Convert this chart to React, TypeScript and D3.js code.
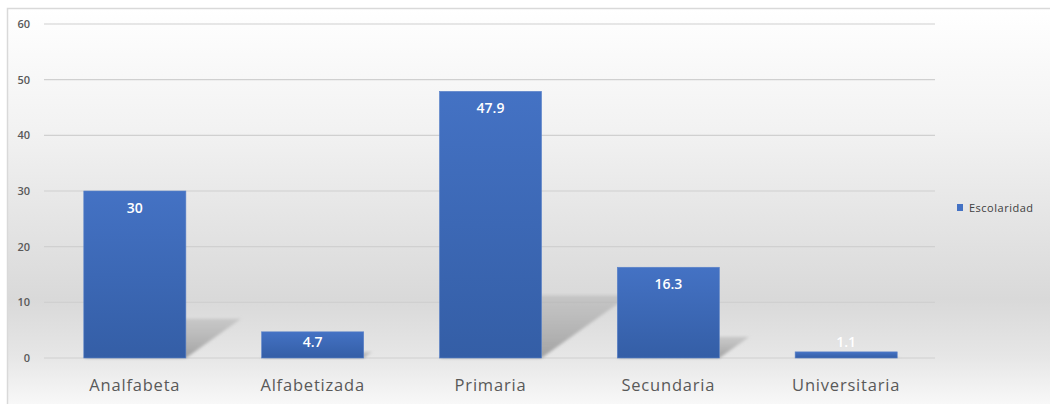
import React from "react";
import * as d3 from "d3";

const categories = ["Analfabeta", "Alfabetizada", "Primaria", "Secundaria", "Universitaria"];
const values = [30, 4.7, 47.9, 16.3, 1.1];
const valueLabels = ["30", "4.7", "47.9", "16.3", "1.1"];
const yTicks = [0, 10, 20, 30, 40, 50, 60];
const seriesName = "Escolaridad";

export default function App() {
  const W = 1050, H = 404;
  const left = 44, right = 935, top = 24, base = 358;
  const x = d3.scaleBand<string>().domain(categories).range([46, 935]).paddingInner(0.426).paddingOuter(0.2125);
  const y = d3.scaleLinear().domain([0, 60]).range([base, top]);
  const font = "'Open Sans', 'Noto Sans', sans-serif";
  const gray = "#595959";
  return (
    <svg width={W} height={H} style={{ position: "absolute", left: 0, top: 0, display: "block" }}>
      <defs>
        <linearGradient id="bg" x1="0" y1="0" x2="0" y2="1">
          <stop offset="0%" stopColor="#ffffff" />
          <stop offset="30%" stopColor="#f2f2f2" />
          <stop offset="72%" stopColor="#d9d9d9" />
          <stop offset="86%" stopColor="#e6e6e6" />
          <stop offset="100%" stopColor="#fbfbfb" />
        </linearGradient>
        <linearGradient id="bar" x1="0" y1="0" x2="0" y2="1">
          <stop offset="0%" stopColor="#4472c4" />
          <stop offset="100%" stopColor="#345ea6" />
        </linearGradient>
        <linearGradient id="shadow" x1="0" y1="1" x2="0" y2="0">
          <stop offset="0%" stopColor="#9a9a9a" stopOpacity="0.9" />
          <stop offset="100%" stopColor="#b8b8b8" stopOpacity="0.6" />
        </linearGradient>
        <filter id="blur" x="-20%" y="-20%" width="140%" height="140%">
          <feGaussianBlur stdDeviation="1.5" />
        </filter>
      </defs>
      <rect x={7.5} y={8.5} width={W} height={H} fill="url(#bg)" stroke="#d9d9d9" strokeWidth={1.5} />
      {yTicks.map((t) => (
        <g key={t}>
          <line x1={left} x2={right} y1={y(t)} y2={y(t)} stroke="#d0d0d0" strokeWidth={1.2} />
          <text x={30} y={y(t)} dy="0.35em" textAnchor="end" fontSize={11} fontWeight={600} fill={gray} fontFamily={font}>{t}</text>
        </g>
      ))}
      {categories.map((c, i) => {
        const x0 = x(c)!;
        const x1 = x0 + x.bandwidth();
        const h = base - y(values[i]);
        const dx = h * 0.33, dy = h * 0.235;
        const pts = [[x0, base], [x1, base], [x1 + dx, base - dy], [x0 + dx, base - dy]];
        return (
          <polygon key={"s" + c} points={pts.map((p) => p.join(",")).join(" ")} fill="url(#shadow)" filter="url(#blur)" />
        );
      })}
      {categories.map((c, i) => {
        const x0 = x(c)!;
        const h = base - y(values[i]);
        const inside = h > 20;
        const ly = inside ? y(values[i]) + Math.min(17, h * 0.4) : y(values[i]) - 10;
        return (
          <g key={c}>
            <rect x={x0} y={y(values[i])} width={x.bandwidth()} height={h} fill="url(#bar)" stroke="#5b82c8" strokeWidth={0.6} />
            <text x={x0 + x.bandwidth() / 2} y={ly} dy="0.35em" textAnchor="middle" fontSize={14} fontWeight={600} fill="#ffffff" fontFamily={font}>{valueLabels[i]}</text>
            <text x={x0 + x.bandwidth() / 2} y={385} dy="0.35em" textAnchor="middle" fontSize={16.5} fill={gray} fontFamily={font} letterSpacing={0.8}>{c}</text>
          </g>
        );
      })}
      <rect x={957} y={204} width={6} height={7} fill="#4472c4" />
      <text x={969} y={208} dy="0.35em" fontSize={11} fill="#404040" fontFamily={font} letterSpacing={0.5}>{seriesName}</text>
    </svg>
  );
}
